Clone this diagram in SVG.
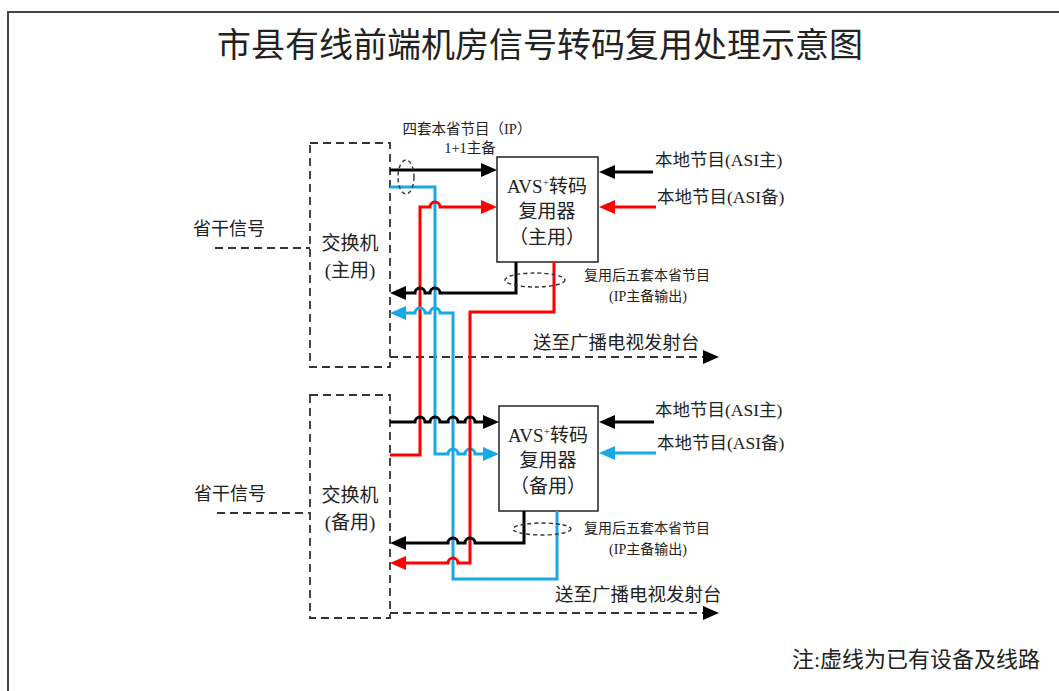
<svg xmlns="http://www.w3.org/2000/svg" width="1059" height="691" viewBox="0 0 1059 691">
<style>
text{font-family:"Liberation Serif","Noto Sans CJK SC",serif;fill:#222}
.dash{fill:none;stroke:#333;stroke-width:1.8;stroke-dasharray:8,5}
.ell{fill:none;stroke:#333;stroke-width:1.4;stroke-dasharray:4,3}
.box{fill:#fff;stroke:#222;stroke-width:1.5}
.k{fill:none;stroke:#000;stroke-width:3}
.r{fill:none;stroke:#ff0000;stroke-width:3}
.b{fill:none;stroke:#19a8e6;stroke-width:3}
</style>
<defs>
<marker id="ak" markerUnits="userSpaceOnUse" markerWidth="16" markerHeight="14" refX="5" refY="7" orient="auto"><path d="M0,0 L16,7 L0,14 z" fill="#000"/></marker>
<marker id="ar" markerUnits="userSpaceOnUse" markerWidth="16" markerHeight="14" refX="5" refY="7" orient="auto"><path d="M0,0 L16,7 L0,14 z" fill="#ff0000"/></marker>
<marker id="ab" markerUnits="userSpaceOnUse" markerWidth="16" markerHeight="14" refX="5" refY="7" orient="auto"><path d="M0,0 L16,7 L0,14 z" fill="#19a8e6"/></marker>
</defs>
<rect x="8" y="12" width="1060" height="690" fill="#fff" stroke="#444" stroke-width="2"/>
<text x="540" y="57" font-size="34" text-anchor="middle">市县有线前端机房信号转码复用处理示意图</text>

<g id="switch-main">
<rect class="dash" x="310" y="143" width="80" height="224"/>
<text x="350" y="250" font-size="19" text-anchor="middle">交换机</text>
<text x="350" y="277" font-size="19" text-anchor="middle">(主用)</text>
</g>
<g id="switch-backup">
<rect class="dash" x="310" y="395" width="80" height="223"/>
<text x="350" y="502" font-size="19" text-anchor="middle">交换机</text>
<text x="350" y="529" font-size="19" text-anchor="middle">(备用)</text>
</g>
<g id="avs-main">
<rect class="box" x="497" y="157" width="101" height="105"/>
<text x="547" y="193" font-size="19" text-anchor="middle">AVS<tspan font-size="11" dy="-7">+</tspan><tspan dy="7">转码</tspan></text>
<text x="547" y="218" font-size="19" text-anchor="middle">复用器</text>
<text x="547" y="244" font-size="19" text-anchor="middle">（主用）</text>
</g>
<g id="avs-backup">
<rect class="box" x="499" y="406" width="99" height="105"/>
<text x="548" y="442" font-size="19" text-anchor="middle">AVS<tspan font-size="11" dy="-7">+</tspan><tspan dy="7">转码</tspan></text>
<text x="548" y="467" font-size="19" text-anchor="middle">复用器</text>
<text x="548" y="493" font-size="19" text-anchor="middle">（备用）</text>
</g>
<g id="labels">
<text x="229" y="235" font-size="18" text-anchor="middle">省干信号</text>
<text x="230" y="500" font-size="18" text-anchor="middle">省干信号</text>
<text x="467" y="134" font-size="14.5" text-anchor="middle">四套本省节目（IP）</text>
<text x="470" y="153" font-size="14.5" text-anchor="middle">1+1主备</text>
<text x="655" y="166" font-size="17.5">本地节目(ASI主)</text>
<text x="657" y="203" font-size="17.5">本地节目(ASI备)</text>
<text x="655" y="416" font-size="17.5">本地节目(ASI主)</text>
<text x="657" y="449" font-size="17.5">本地节目(ASI备)</text>
<text x="647" y="280" font-size="14" text-anchor="middle">复用后五套本省节目</text>
<text x="648" y="301" font-size="14" text-anchor="middle">(IP主备输出)</text>
<text x="647" y="533" font-size="14" text-anchor="middle">复用后五套本省节目</text>
<text x="648" y="554" font-size="14" text-anchor="middle">(IP主备输出)</text>
<text x="533" y="349" font-size="18.5">送至广播电视发射台</text>
<text x="555" y="601" font-size="18.5">送至广播电视发射台</text>
<text x="1040" y="667" font-size="22" text-anchor="end">注:虚线为已有设备及线路</text>
</g>
<g id="connectors">
<path class="dash" d="M215,248 H310"/>
<path class="dash" d="M217,513 H310"/>
<path class="dash" d="M390,357 H708" marker-end="url(#ak)"/>
<path class="dash" d="M390,613 H708" marker-end="url(#ak)"/>
<!-- right inputs -->
<path class="k" d="M653,172 H610" marker-end="url(#ak)"/>
<path class="r" d="M656,207 H610" marker-end="url(#ar)"/>
<path class="k" d="M654,422 H610" marker-end="url(#ak)"/>
<path class="b" d="M656,453 H610" marker-end="url(#ab)"/>
<!-- main / backup links -->
<path class="k" d="M390,170 H486" marker-end="url(#ak)"/>
<path class="b" d="M390,187 H435 V454 H448 A5,5 0 0 1 458,454 H465 A5,5 0 0 1 475,454 H488" marker-end="url(#ab)"/>
<path class="r" d="M390,455 H420 V207 H430 A5,5 0 0 1 440,207 H486" marker-end="url(#ar)"/>
<path class="k" d="M516,262 V293 H440 A5,5 0 0 0 430,293 H425 A5,5 0 0 0 415,293 H401" marker-end="url(#ak)"/>
<path class="b" d="M557,511 V579 H453 V313 H440 A5,5 0 0 0 430,313 H425 A5,5 0 0 0 415,313 H401" marker-end="url(#ab)"/>
<path class="r" d="M554,262 V312 H470 V563 H458 A5,5 0 0 0 448,563 H401" marker-end="url(#ar)"/>
<path class="k" d="M390,422 H415 A5,5 0 0 1 425,422 H430 A5,5 0 0 1 440,422 H448 A5,5 0 0 1 458,422 H465 A5,5 0 0 1 475,422 H488" marker-end="url(#ak)"/>
<path class="k" d="M524,511 V543 H475 A5,5 0 0 0 465,543 H458 A5,5 0 0 0 448,543 H401" marker-end="url(#ak)"/>
<ellipse class="ell" cx="406" cy="177" rx="8" ry="17"/>
<ellipse class="ell" cx="535" cy="280" rx="30" ry="7"/>
<ellipse class="ell" cx="542" cy="529" rx="29" ry="6"/>
</g>
</svg>
